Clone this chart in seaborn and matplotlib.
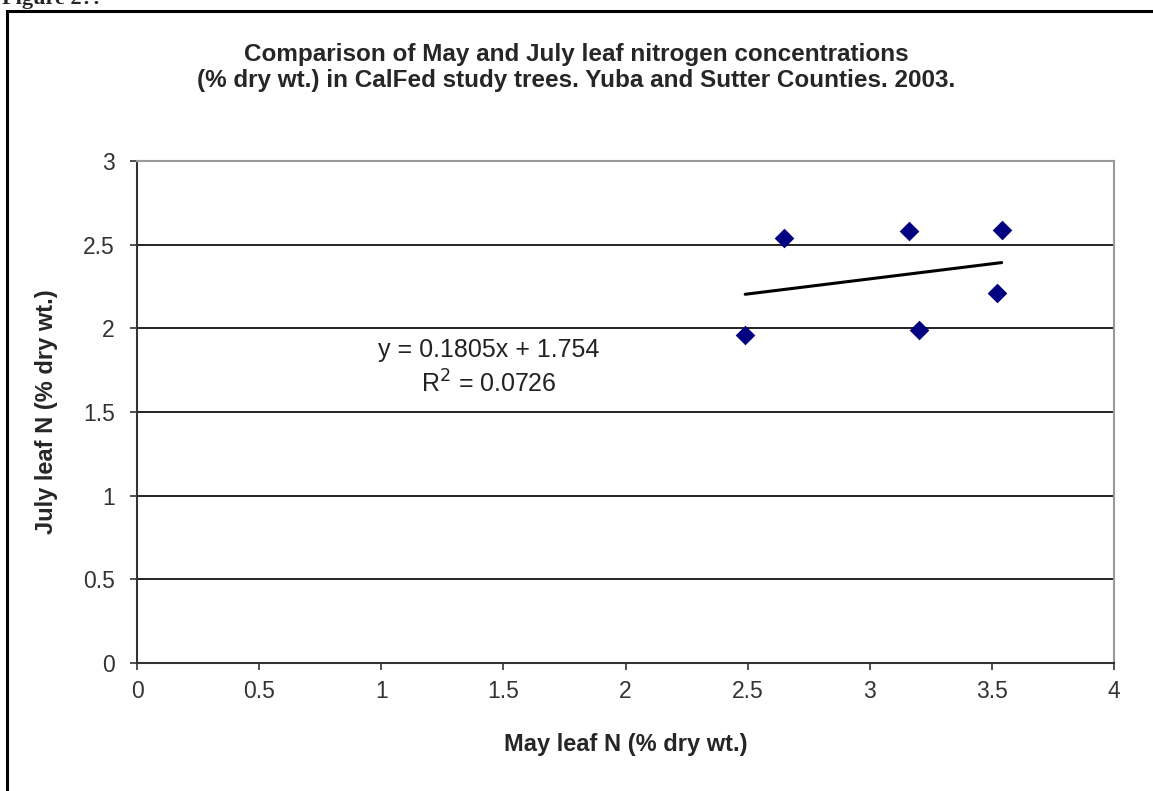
import matplotlib
matplotlib.use("Agg")
import matplotlib.pyplot as plt
import seaborn as sns
import numpy as np
import pandas as pd
from matplotlib.patches import Rectangle

# Leaf N values (% dry wt.)
may_n = [2.49, 2.65, 3.16, 3.20, 3.52, 3.54]
july_n = [1.96, 2.54, 2.58, 1.99, 2.21, 2.59]

# Trendline as printed on the chart
slope = 0.1805
intercept = 1.754
r_squared = 0.0726

x_ticks = [0, 0.5, 1, 1.5, 2, 2.5, 3, 3.5, 4]
x_tick_labels = ["0", "0.5", "1", "1.5", "2", "2.5", "3", "3.5", "4"]
y_ticks = [0, 0.5, 1, 1.5, 2, 2.5, 3]
y_tick_labels = ["0", "0.5", "1", "1.5", "2", "2.5", "3"]

df = pd.DataFrame({"may": may_n, "july": july_n})

sns.set_style("white")
plt.rcParams["font.family"] = ["Liberation Sans", "DejaVu Sans"]

fig = plt.figure(figsize=(11.53, 7.91), dpi=100)
ax = fig.add_axes([137 / 1153, 128 / 791, 977 / 1153, 502 / 791])

# horizontal gridlines
for yv in y_ticks[1:-1]:
    ax.axhline(yv, color="#222222", linewidth=1.4, zorder=1)

# trendline across the range of the data
trend_x = np.array([min(may_n), max(may_n)])
trend = pd.DataFrame({"x": trend_x, "y": slope * trend_x + intercept})
sns.lineplot(data=trend, x="x", y="y", color="black", linewidth=2.2, ax=ax, zorder=2)

sns.scatterplot(data=df, x="may", y="july", marker="D", color="#000080",
                s=100, edgecolor="#000080", linewidth=0, ax=ax, zorder=3)

ax.set_xlim(0, 4)
ax.set_ylim(0, 3)
ax.set_xticks(x_ticks)
ax.set_xticklabels(x_tick_labels)
ax.set_yticks(y_ticks)
ax.set_yticklabels(y_tick_labels)
ax.tick_params(axis="both", direction="out", length=5, width=1.2, color="#333333",
               labelsize=16.5, labelcolor="#333333")
ax.tick_params(axis="x", bottom=True, pad=7)
ax.tick_params(axis="y", left=True, pad=11)

for side in ["left", "bottom"]:
    ax.spines[side].set_color("#333333")
    ax.spines[side].set_linewidth(1.5)
for side in ["top", "right"]:
    ax.spines[side].set_color("#9a9a9a")
    ax.spines[side].set_linewidth(1.5)

ax.set_xlabel("May leaf N (% dry wt.)", fontsize=17, fontweight="bold", labelpad=22)
ax.set_ylabel("July leaf N (% dry wt.)", fontsize=17, fontweight="bold", labelpad=18)

fig.text(576 / 1153, 1 - 55 / 791,
         "Comparison of May and July leaf nitrogen concentrations",
         ha="center", va="center", fontsize=17.5, fontweight="bold")
fig.text(576 / 1153, 1 - 80 / 791,
         "(% dry wt.) in CalFed study trees. Yuba and Sutter Counties. 2003.",
         ha="center", va="center", fontsize=17.5, fontweight="bold")

ax.text(1.44, 1.87, f"y = {slope}x + {intercept}", ha="center", va="center",
        fontsize=18, color="#222222")
ax.text(1.44, 1.67, f"R$^2$ = {r_squared}", ha="center", va="center",
        fontsize=18, color="#222222")

# outer frame and the cut-off caption above it
fig.patches.append(Rectangle((7 / 1153, -0.05), 1.1, 1 - 11 / 791 + 0.05,
                             transform=fig.transFigure, fill=False,
                             edgecolor="black", linewidth=2.2))
fig.text(2 / 1153, 1 + 1 / 791, "Figure 2?:", ha="left", va="center",
         fontsize=16, fontweight="bold", family="Liberation Serif")

fig.savefig("out.png", dpi=100)
